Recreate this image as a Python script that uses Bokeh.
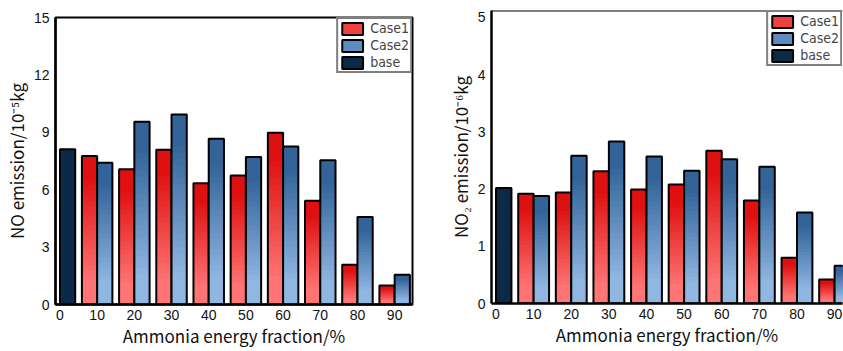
from bokeh.plotting import figure
from bokeh.layouts import row, column
from bokeh.models import FixedTicker, Legend, LegendItem, Span, ColumnDataSource, Spacer
from bokeh.embed import file_html
from bokeh.resources import INLINE

fractions = ["0", "10", "20", "30", "40", "50", "60", "70", "80", "90"]
base_no = 8.11
case1_no = [7.76, 7.07, 8.09, 6.34, 6.74, 8.98, 5.42, 2.08, 0.99]
case2_no = [7.41, 9.55, 9.93, 8.66, 7.71, 8.26, 7.54, 4.57, 1.56]
base_no2 = 2.02
case1_no2 = [1.92, 1.94, 2.31, 1.99, 2.08, 2.67, 1.80, 0.80, 0.42]
case2_no2 = [1.88, 2.58, 2.83, 2.57, 2.32, 2.52, 2.39, 1.59, 0.66]

W = 0.41
NSLICE = 30
RED = ((0xde, 0x10, 0x10), (0xff, 0x74, 0x74))
BLUE = ((0x33, 0x63, 0x99), (0x90, 0xb6, 0xe2))
BASE = "#0b2a48"


def mix(c0, c1, t):
    return "#%02x%02x%02x" % tuple(int(round(a + (b - a) * t)) for a, b in zip(c0, c1))


def grad_bars(p, xs, vals, cols):
    left, right, bottom, top, color = [], [], [], [], []
    for x, v in zip(xs, vals):
        for k in range(NSLICE):
            b = v * k / NSLICE
            frac = (k + 0.5) / NSLICE  # 0 bottom, 1 top
            s = min(1.0, max(0.0, (frac - 0.15) / 0.7))
            left.append(x - W / 2)
            right.append(x + W / 2)
            bottom.append(b)
            top.append(v)
            color.append(mix(cols[1], cols[0], s))
    src = ColumnDataSource(dict(left=left, right=right, bottom=bottom, top=top, color=color))
    p.quad(left="left", right="right", bottom="bottom", top="top", fill_color="color",
           line_color=None, source=src)
    p.quad(left=[x - W / 2 for x in xs], right=[x + W / 2 for x in xs], bottom=0, top=vals,
           fill_color=None, line_color="black", line_width=2)


def make_panel(width, height, ylab, ymax, yticks, base, c1, c2, mb_left, mb_right, mb_top, mb_bottom, xend, full_frame):
    p = figure(width=width, height=height, output_backend="svg", toolbar_location=None,
               x_range=(-0.12, xend), y_range=(0, ymax),
               min_border_left=mb_left, min_border_right=mb_right,
               min_border_top=mb_top, min_border_bottom=mb_bottom)
    p.grid.visible = False
    p.background_fill_color = "white"
    p.border_fill_color = "white"
    if full_frame:
        p.outline_line_color = "black"
        p.outline_line_width = 2
    else:
        p.outline_line_color = None
        p.add_layout(Span(location=ymax, dimension="width", line_color="black", line_width=2))

    idx = list(range(len(fractions)))
    p.quad(left=[0], right=[W], bottom=0, top=[base],
           fill_color=BASE, line_color="black", line_width=2)
    xs1 = [i - W / 2 for i in idx[1:]]
    xs2 = [i + W / 2 for i in idx[1:]]
    grad_bars(p, xs1, c1, RED)
    grad_bars(p, xs2, c2, BLUE)

    p.xaxis.ticker = FixedTicker(ticks=idx)
    p.xaxis.major_label_overrides = {i: f for i, f in zip(idx, fractions)}
    p.yaxis.ticker = FixedTicker(ticks=yticks)
    for ax in (p.xaxis[0], p.yaxis[0]):
        ax.axis_line_color = "black"
        ax.axis_line_width = 2.5
        ax.major_tick_line_color = None
        ax.minor_tick_line_color = None
        ax.major_tick_out = 0
        ax.major_tick_in = 0
        ax.minor_tick_out = 0
        ax.major_label_text_font = "Liberation Sans"
        ax.major_label_text_font_size = "14px"
        ax.major_label_text_color = "#111111"
        ax.axis_label_text_font = "Noto Sans CJK SC"
        ax.axis_label_text_font_size = "17px"
        ax.axis_label_text_font_style = "normal"
        ax.axis_label_text_color = "#111111"
    p.xaxis.axis_label = "Ammonia energy fraction/%"
    p.xaxis.major_label_standoff = 5
    p.xaxis.axis_label_standoff = 0
    p.yaxis.axis_label = ylab
    p.yaxis.major_label_standoff = 6
    p.yaxis.axis_label_standoff = 2

    r1 = p.quad(left=[0], right=[0], bottom=[0], top=[0], fill_color="#f04040", line_color="black", line_width=2)
    r2 = p.quad(left=[0], right=[0], bottom=[0], top=[0], fill_color="#5f8cc0", line_color="black", line_width=2)
    r3 = p.quad(left=[0], right=[0], bottom=[0], top=[0], fill_color=BASE, line_color="black", line_width=2)
    leg = Legend(items=[LegendItem(label="Case1", renderers=[r1]),
                        LegendItem(label="Case2", renderers=[r2]),
                        LegendItem(label="base", renderers=[r3])],
                 glyph_width=26, glyph_height=15, spacing=1, padding=1, margin=0,
                 label_text_font="DejaVu Sans Condensed", label_text_font_size="14px",
                 label_standoff=5, label_height=15,
                 border_line_color="black", border_line_width=2,
                 background_fill_alpha=1.0, location="top_right")
    p.add_layout(leg)
    return p


p1 = make_panel(420, 344, "NO emission/10\u207b\u2075kg", 15, [0, 3, 6, 9, 12, 15],
                base_no, case1_no, case2_no, 55, 8, 10, 47, 9.48, True)
p2 = make_panel(423, 351, "NO\u2082 emission/10\u207b\u2076kg", 5.12, [0, 1, 2, 3, 4, 5],
                base_no2, case1_no2, case2_no2, 71, 1, 10, 48, 9.21, False)

layout = row(column(Spacer(width=420, height=7), p1), column(p2))
open("out.html", "w").write(file_html(layout, INLINE))
